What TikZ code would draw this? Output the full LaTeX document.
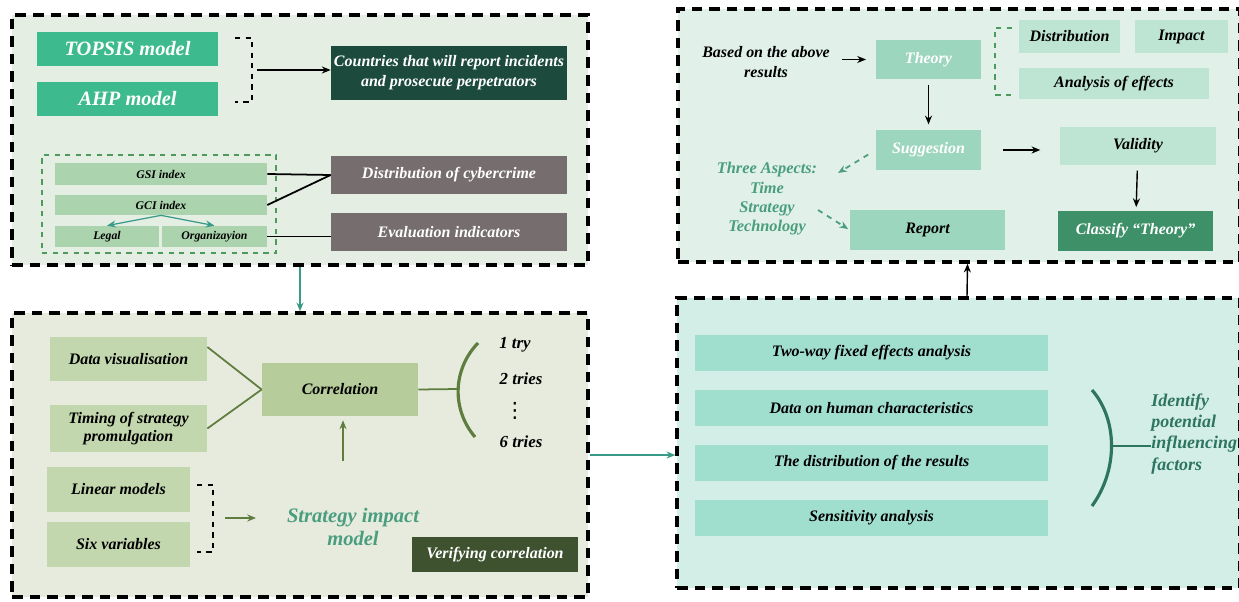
\documentclass[tikz,border=0pt]{standalone}
\usepackage{fontspec}
\setmainfont{Liberation Serif}
\newfontfamily\symfont{DejaVu Sans}
\usetikzlibrary{fit, positioning, arrows.meta}

\definecolor{fillA}{HTML}{E4EEE3}
\definecolor{fillB}{HTML}{E6EBDE}
\definecolor{fillC}{HTML}{D3EEE6}
\definecolor{fillD}{HTML}{E1F1EA}
\definecolor{topsisgreen}{HTML}{3DBB8E}
\definecolor{darkgreen}{HTML}{1C4A3C}
\definecolor{indexgreen}{HTML}{ABD3AE}
\definecolor{dashgreen}{HTML}{4E9A5E}
\definecolor{tealline}{HTML}{3A9A88}
\definecolor{greybox}{HTML}{766E6E}
\definecolor{olivebox}{HTML}{C3D7AE}
\definecolor{corrbox}{HTML}{B6CC9B}
\definecolor{oliveline}{HTML}{5E7D3E}
\definecolor{strattext}{HTML}{4A9E7E}
\definecolor{darkolive}{HTML}{3E5230}
\definecolor{rowteal}{HTML}{A0DECE}
\definecolor{bracketteal}{HTML}{2D7560}
\definecolor{theorybox}{HTML}{9DD6BE}
\definecolor{paleteal}{HTML}{BEE4D3}
\definecolor{classifybox}{HTML}{3E9068}

\begin{document}
\begin{tikzpicture}[x=0.02cm, y=-0.02cm,
  panel/.style={draw=black, line width=1.9pt, dash pattern=on 6pt off 4pt, inner sep=0pt},
  box/.style={inner sep=0pt},
  boxtext/.style={inner sep=0pt, align=center, font=\bfseries\itshape\fontsize{9.1}{11.3}\selectfont},
  whitetext/.style={boxtext, text=white},
  smalltext/.style={boxtext, font=\bfseries\itshape\fontsize{6.7}{8}\selectfont},
  bigtext/.style={boxtext, text=white, font=\bfseries\itshape\fontsize{11.6}{13}\selectfont},
  plaintext/.style={inner sep=0pt, align=center, font=\bfseries\itshape\fontsize{9.6}{11}\selectfont},
  arr/.style={-{Stealth[length=5pt,width=4pt]}, line width=0.8pt},
  bracket/.style={dashed, line width=0.9pt}]
\useasboundingbox (0,0) rectangle (1239,601);

% panels
\node[panel, fill=fillA, fit={(12,15) (588,265)}] (panelA) {};
\node[panel, fill=fillB, fit={(12,313) (588,597)}] (panelB) {};
\node[panel, fill=fillC, fit={(677,298) (1240,588)}] (panelC) {};
\node[panel, fill=fillD, fit={(678,9) (1240,262)}] (panelD) {};

% top left
\node[box, fill=topsisgreen, fit={(37,32) (218,66)}, label={[bigtext]center:TOPSIS model}] (topsis) {};
\node[box, fill=topsisgreen, fit={(37,82) (218,116)}, label={[bigtext]center:AHP model}] (ahp) {};
\node[box, fill=darkgreen, fit={(331,46) (567,100)}, label={[whitetext]center:{Countries that will report incidents\\and prosecute perpetrators}}] (countries) {};
\draw[bracket] (235,38) -| (252,102) -- (235,102);
\coordinate (brA) at (257,70);
\draw[arr] (brA) -- (brA -| countries.west);

\node[draw=dashgreen, dashed, line width=0.9pt, inner sep=0pt, fit={(42,155) (276,253)}] (indexframe) {};
\node[box, fill=indexgreen, fit={(55,163) (267,185)}, label={[smalltext]center:GSI index}] (gsi) {};
\node[box, fill=indexgreen, fit={(55,195) (267,215)}, label={[smalltext]center:GCI index}] (gci) {};
\node[box, fill=indexgreen, fit={(55,226) (159,247)}, label={[smalltext]center:Legal}] (legal) {};
\node[box, fill=indexgreen, fit={(162,226) (267,247)}, label={[smalltext]center:Organizayion}] (organ) {};
\draw[arr, draw=tealline, line width=0.7pt] (gci.south) -- (legal.north);
\draw[arr, draw=tealline, line width=0.7pt] (gci.south) -- (organ.north);

\node[box, fill=greybox, fit={(331,156) (567,194)}, label={[whitetext]center:Distribution of cybercrime}] (distcrime) {};
\node[box, fill=greybox, fit={(331,213) (567,251)}, label={[whitetext]center:Evaluation indicators}] (evalind) {};
\draw[line width=1pt] (gsi.east) -- (distcrime.west);
\draw[line width=1pt] (gci.east) -- (distcrime.west);
\draw[line width=1pt] (organ.east) -- (organ.east -| evalind.west);

\draw[arr, draw=tealline] (panelA.south) -- (panelB.north);

% bottom left
\node[box, fill=olivebox, fit={(50,337) (207,381)}, label={[boxtext]center:Data visualisation}] (datavis) {};
\node[box, fill=olivebox, fit={(50,405) (207,452)}, label={[boxtext, font=\bfseries\itshape\fontsize{9.1}{9.8}\selectfont]center:{Timing of strategy\\promulgation}}] (timing) {};
\node[box, fill=corrbox, fit={(262,363) (418,416)}, label={[boxtext]center:Correlation}] (corr) {};
\draw[oliveline, line width=1pt] ([yshift=0.24cm]datavis.east) -- (corr.west);
\draw[oliveline, line width=1pt] (timing.east) -- (corr.west);
\coordinate (brkB) at (458,389);
\draw[oliveline, line width=1pt] (corr.east) -- (brkB);
\draw[oliveline, line width=1.8pt] (478,343) .. controls (452,370) and (452,410) .. (475,437);
\node[plaintext] (try1) at (515,345) {1 try};
\node[plaintext] (try2) at (521,379) {2 tries};
\node[plaintext, font=\symfont\fontsize{12}{13}\selectfont] (tryd) at (515,411) {⋮};
\node[plaintext] (try6) at (521,442) {6 tries};

\node[box, fill=olivebox, fit={(47,467) (190,512)}, label={[boxtext]center:Linear models}] (linear) {};
\node[box, fill=olivebox, fit={(47,522) (190,567)}, label={[boxtext]center:Six variables}] (sixvar) {};
\draw[bracket] (197,485) -| (213,552) -- (197,552);
\coordinate (linA) at (225,518);
\coordinate (linB) at (256,518);
\draw[arr, draw=oliveline] (linA) -- (linB);
\node[plaintext, text=strattext, font=\bfseries\itshape\fontsize{11.7}{13.6}\selectfont] (strat) at (353,527) {Strategy impact\\model};
\coordinate (upA) at (343,461);
\draw[arr, draw=oliveline] (upA) -- ([yshift=-0.08cm]upA |- corr.south);
\node[box, fill=darkolive, fit={(412,537) (578,572)}, label={[whitetext]center:Verifying correlation}] (verify) {};

\draw[arr, draw=tealline] (panelB.east) -- (panelB.east -| panelC.west);

% bottom right
\node[box, fill=rowteal, fit={(695,335) (1048,371)}, label={[boxtext]center:Two-way fixed effects analysis}] (twoway) {};
\node[box, fill=rowteal, fit={(695,390) (1048,426)}, label={[boxtext]center:Data on human characteristics}] (human) {};
\node[box, fill=rowteal, fit={(695,445) (1048,481)}, label={[boxtext]center:The distribution of the results}] (distres) {};
\node[box, fill=rowteal, fit={(695,500) (1048,536)}, label={[boxtext]center:Sensitivity analysis}] (sensit) {};
\draw[bracketteal, line width=1.8pt] (1092,390) .. controls (1118,420) and (1118,470) .. (1092,506);
\coordinate (brkC) at (1111,446);
\node[plaintext, text=bracketteal, align=left, anchor=west, font=\bfseries\itshape\fontsize{10.2}{12}\selectfont] (ident) at (1151,434) {Identify\\potential\\influencing\\factors};
\draw[bracketteal, line width=1pt] (brkC) -- (brkC -| ident.west);

\draw[arr] ([xshift=0.17cm]panelC.north) -- ([xshift=0.17cm]panelD.south);

% top right
\node[plaintext, font=\bfseries\itshape\fontsize{9.1}{11}\selectfont] (based) at (766,62) {Based on the above\\results};
\node[box, fill=theorybox, fit={(876,40) (981,79)}, label={[whitetext]center:Theory}] (theory) {};
\draw[arr, shorten <=7pt, shorten >=5.5pt] (based.east |- theory.west) -- (theory.west);
\draw[bracket, draw=dashgreen] (1012,28) -| (995,95) -- (1012,95);
\node[box, fill=paleteal, fit={(1019,20) (1120,53)}, label={[boxtext]center:Distribution}] (distrib) {};
\node[box, fill=paleteal, fit={(1135,20) (1228,53)}, label={[boxtext]center:Impact}] (impact) {};
\node[box, fill=paleteal, fit={(1019,68) (1209,99)}, label={[boxtext]center:Analysis of effects}] (analysis) {};
\node[box, fill=theorybox, fit={(876,130) (981,170)}, label={[whitetext]center:Suggestion}] (suggest) {};
\draw[arr, shorten <=3pt, shorten >=3pt] (theory) -- (suggest);
\node[box, fill=paleteal, fit={(1060,127) (1216,165)}, label={[boxtext]center:Validity}] (validity) {};
\draw[arr, shorten <=12.5pt, shorten >=11pt] (suggest.east) -- (suggest.east -| validity.west);
\node[box, fill=classifybox, fit={(1058,211) (1213,251)}, label={[whitetext]center:Classify ``Theory''}] (classify) {};
\draw[arr, shorten <=3pt, shorten >=2pt] (validity) -- (classify);
\node[plaintext, text=strattext, font=\bfseries\itshape\fontsize{9.3}{11}\selectfont] (aspects) at (767,199) {Three Aspects:\\Time\\Strategy\\Technology};
\node[box, fill=theorybox, fit={(850,210) (1005,250)}, label={[boxtext]center:Report}] (report) {};
\coordinate (aspA) at (838,173);
\coordinate (aspB) at (818,210);
\draw[arr, draw=strattext, dashed, line width=1pt, shorten <=5pt] (suggest.west) -- (aspA);
\draw[arr, draw=strattext, dashed, line width=1pt, shorten >=1pt] (aspB) -- (report.west);
\end{tikzpicture}
\end{document}
